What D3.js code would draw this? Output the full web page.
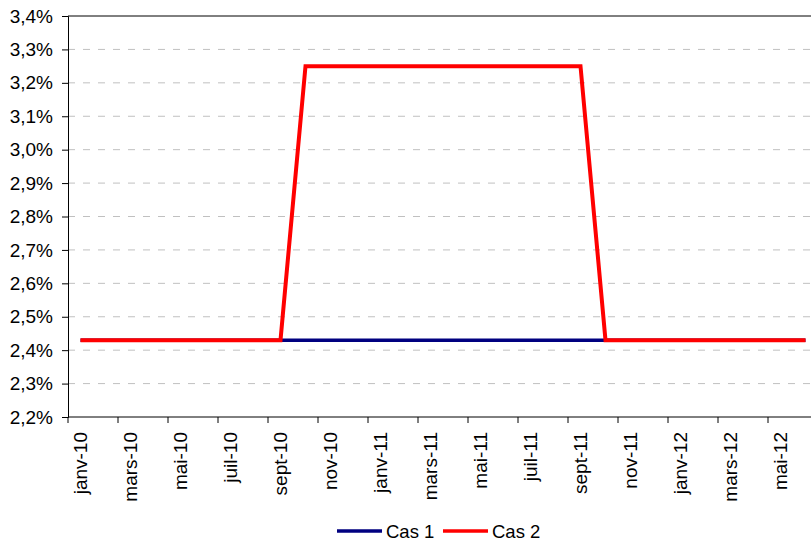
<!DOCTYPE html>
<html>
<head>
<meta charset="utf-8">
<script src="https://cdn.jsdelivr.net/npm/d3@7"></script>
<style>
  html, body { margin: 0; padding: 0; background: #fff; }
  svg { display: block; }
  text { font-family: "Liberation Sans", Arial, sans-serif; fill: #000; }
</style>
</head>
<body>
<svg id="chart" width="811" height="542"></svg>
<script>
// Monthly categories, janv-10 .. juin-12
const months = ["janv-10","févr-10","mars-10","avr-10","mai-10","juin-10","juil-10","août-10","sept-10","oct-10","nov-10","déc-10",
                "janv-11","févr-11","mars-11","avr-11","mai-11","juin-11","juil-11","août-11","sept-11","oct-11","nov-11","déc-11",
                "janv-12","févr-12","mars-12","avr-12","mai-12","juin-12"];

// Rates in percent
const cas1 = [2.43,2.43,2.43,2.43,2.43,2.43,2.43,2.43,2.43,2.43,2.43,2.43,
              2.43,2.43,2.43,2.43,2.43,2.43,2.43,2.43,2.43,2.43,2.43,2.43,
              2.43,2.43,2.43,2.43,2.43,2.43];
const cas2 = [2.43,2.43,2.43,2.43,2.43,2.43,2.43,2.43,2.43,3.25,3.25,3.25,
              3.25,3.25,3.25,3.25,3.25,3.25,3.25,3.25,3.25,2.43,2.43,2.43,
              2.43,2.43,2.43,2.43,2.43,2.43];

const yTicks = [2.2,2.3,2.4,2.5,2.6,2.7,2.8,2.9,3.0,3.1,3.2,3.3,3.4];
const seriesNames = ["Cas 1", "Cas 2"];
const seriesColors = ["#000080", "#ff0000"];

const svg = d3.select("#chart");
const plotLeft = 68, plotTop = 16, plotBottom = 417, plotRight = 818, viewRight = 811;

const x = d3.scaleBand().domain(months).range([plotLeft, plotRight]).padding(0);
const y = d3.scaleLinear().domain([2.2, 3.4]).range([plotBottom, plotTop]);
const fmt = v => d3.format(".1f")(v).replace(".", ",") + "%";

// horizontal dashed gridlines
svg.append("g")
  .selectAll("line")
  .data(yTicks.filter(v => v > 2.2 && v < 3.4))
  .join("line")
  .attr("x1", plotLeft).attr("x2", viewRight)
  .attr("y1", d => y(d)).attr("y2", d => y(d))
  .attr("stroke", "#c0c0c0")
  .attr("stroke-width", 1)
  .attr("stroke-dasharray", "7,8");

// top border of the plot area
svg.append("line")
  .attr("x1", plotLeft).attr("x2", viewRight)
  .attr("y1", y(3.4)).attr("y2", y(3.4))
  .attr("stroke", "#000").attr("stroke-width", 1);

// y axis
const yAxis = svg.append("g")
  .attr("transform", `translate(${plotLeft},0)`)
  .call(d3.axisLeft(y).tickValues(yTicks).tickFormat(fmt).tickSize(6).tickPadding(9));
yAxis.select(".domain").attr("stroke", "#000");
yAxis.selectAll(".tick line").attr("stroke", "#000");
yAxis.selectAll("text").style("font-size", "19px").style("font-family", "Liberation Sans, Arial, sans-serif").attr("fill", "#000");

// x axis: baseline, tick marks every two months, rotated labels
svg.append("line")
  .attr("x1", plotLeft).attr("x2", viewRight)
  .attr("y1", plotBottom).attr("y2", plotBottom)
  .attr("stroke", "#000").attr("stroke-width", 1);

const labeled = months.filter((m, i) => i % 2 === 0);
svg.append("g")
  .selectAll("line")
  .data(labeled)
  .join("line")
  .attr("x1", d => x(d)).attr("x2", d => x(d))
  .attr("y1", plotBottom).attr("y2", plotBottom + 6)
  .attr("stroke", "#000");

svg.append("g")
  .selectAll("text")
  .data(labeled)
  .join("text")
  .attr("transform", d => `translate(${x(d) + x.bandwidth() / 2},${plotBottom + 15}) rotate(-90)`)
  .attr("text-anchor", "end")
  .attr("dy", "0.35em")
  .style("font-size", "19px")
  .text(d => d);

// series lines
const line = d3.line()
  .x((d, i) => x(months[i]) + x.bandwidth() / 2)
  .y(d => y(d));

[cas1, cas2].forEach((s, k) => {
  svg.append("path")
    .datum(s)
    .attr("d", line)
    .attr("fill", "none")
    .attr("stroke", seriesColors[k])
    .attr("stroke-width", k === 0 ? 3.5 : 4)
    .attr("stroke-linejoin", "miter");
});

// legend
const legendX = [337, 443];
const legend = svg.append("g");
seriesNames.forEach((name, k) => {
  legend.append("line")
    .attr("x1", legendX[k]).attr("x2", legendX[k] + 45)
    .attr("y1", 531).attr("y2", 531)
    .attr("stroke", seriesColors[k]).attr("stroke-width", 3.5);
  legend.append("text")
    .attr("x", legendX[k] + 49).attr("y", 537.5)
    .style("font-size", "18.5px")
    .text(name);
});
</script>
</body>
</html>
